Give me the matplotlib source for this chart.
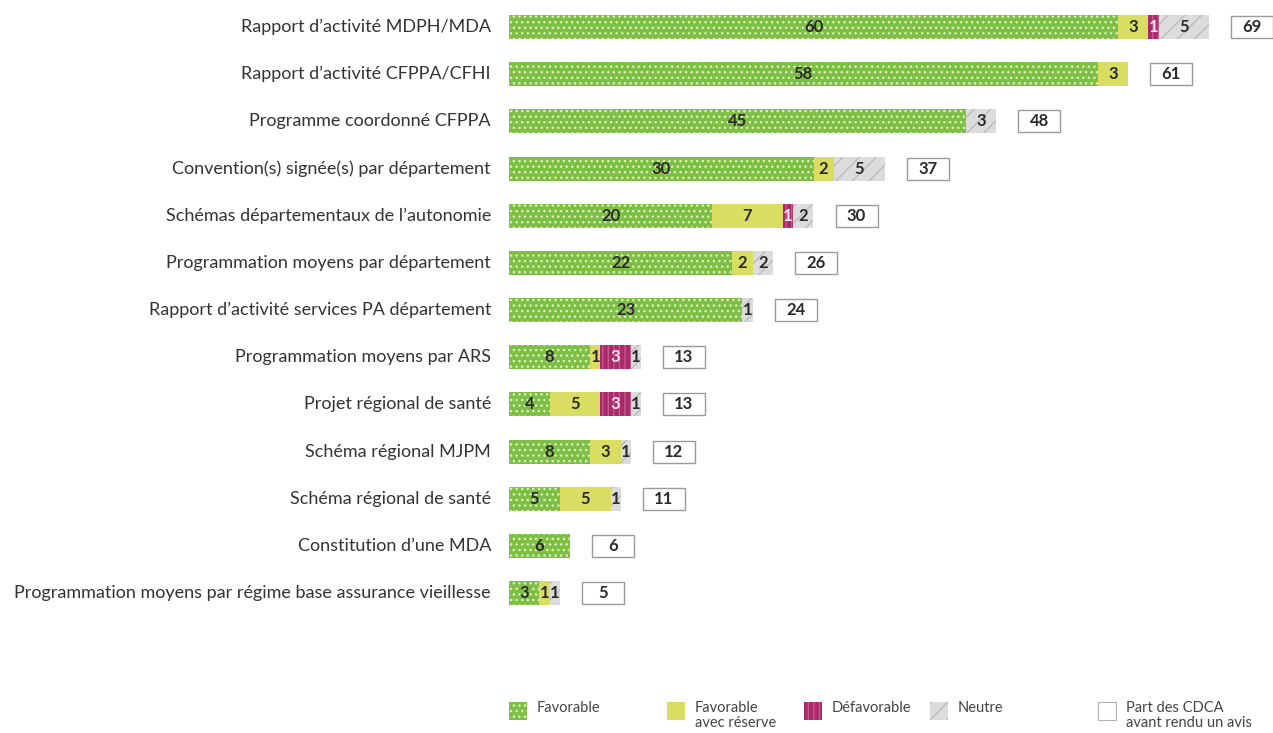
import matplotlib
matplotlib.use("Agg")
import matplotlib.pyplot as plt
from matplotlib.patches import Rectangle
from matplotlib.transforms import offset_copy

# Avis rendus par les CDCA, par type de document
categories = [
    "Rapport d\u2019activité MDPH/MDA",
    "Rapport d\u2019activité CFPPA/CFHI",
    "Programme coordonné CFPPA",
    "Convention(s) signée(s) par département",
    "Schémas départementaux de l\u2019autonomie",
    "Programmation moyens par département",
    "Rapport d\u2019activité services PA département",
    "Programmation moyens par ARS",
    "Projet régional de santé",
    "Schéma régional MJPM",
    "Schéma régional de santé",
    "Constitution d\u2019une MDA",
    "Programmation moyens par régime base assurance vieillesse",
]
favorable = [60, 58, 45, 30, 20, 22, 23, 8, 4, 8, 5, 6, 3]
favorable_reserve = [3, 3, 0, 2, 7, 2, 0, 1, 5, 3, 5, 0, 1]
defavorable = [1, 0, 0, 0, 1, 0, 0, 3, 3, 0, 0, 0, 0]
neutre = [5, 0, 3, 5, 2, 2, 1, 1, 1, 1, 1, 0, 1]
totals = [69, 61, 48, 37, 30, 26, 24, 13, 13, 12, 11, 6, 5]

legend_labels = ["Favorable", "Favorable\navec réserve", "Défavorable",
                 "Neutre", "Part des CDCA\navant rendu un avis"]

plt.rcParams["font.family"] = ["Lato", "DejaVu Sans"]
plt.rcParams["hatch.linewidth"] = 1.0

GREEN = "#7dbf45"
YELLOW = "#d9de62"
MAGENTA = "#a82a68"
GREY = "#dcdcdc"
TEXT = "#2a2a2a"

styles = [
    dict(facecolor=GREEN, edgecolor="#dff0bd", hatch="...", text=TEXT),
    dict(facecolor=YELLOW, edgecolor=YELLOW, hatch=None, text=TEXT),
    dict(facecolor=MAGENTA, edgecolor="#c8588e", hatch="|||", text="#f4e4ee"),
    dict(facecolor=GREY, edgecolor="#bcbcbc", hatch="//", text=TEXT),
]

W, H = 1273, 733
fig = plt.figure(figsize=(W / 100, H / 100), dpi=100)
fig.patch.set_facecolor("white")

# Pixel geometry of the plotting area
x0_px = 509          # left edge of bars
px_per_unit = 10.15  # horizontal scale
row0_px = 27         # centre of first row
row_step = 47.17     # row spacing

ax = fig.add_axes([0, 0, 1, 1])
ax.set_xlim(-x0_px / px_per_unit, (W - x0_px) / px_per_unit)
ax.set_ylim((H - row0_px) / row_step, -row0_px / row_step)
ax.axis("off")

bar_h = 24 / row_step
series = [favorable, favorable_reserve, defavorable, neutre]

for i, cat in enumerate(categories):
    left = 0
    for vals, st in zip(series, styles):
        v = vals[i]
        if v <= 0:
            continue
        ax.barh(i, v, left=left, height=bar_h, color=st["facecolor"],
                edgecolor=st["edgecolor"], hatch=st["hatch"], linewidth=0)
        ax.text(left + v / 2, i, str(v), ha="center", va="center",
                fontsize=12, fontweight="bold", color=st["text"])
        left += v

    # total box
    gap = 22 / px_per_unit
    bw = 42 / px_per_unit
    bh = 22 / row_step
    ax.add_patch(Rectangle((totals[i] + gap, i - bh / 2), bw, bh,
                           facecolor="white", edgecolor="#9a9a9a", linewidth=1))
    ax.text(totals[i] + gap + bw / 2, i, str(totals[i]), ha="center",
            va="center", fontsize=12, fontweight="bold", color=TEXT)

    # category label
    tr = offset_copy(ax.transData, fig=fig, x=-18, y=0, units="dots")
    ax.text(0, i, cat, ha="right", va="center", fontsize=13.0,
            color="#333333", transform=tr)

# Legend drawn in pixel coordinates
lg = fig.add_axes([0, 0, 1, 1], facecolor="none")
lg.set_xlim(0, W)
lg.set_ylim(H, 0)
lg.axis("off")

legend_x = [509, 667, 804, 930, 1098]
legend_styles = styles + [dict(facecolor="white", edgecolor="#b0b0b0",
                               hatch=None, text=TEXT)]
for x, lab, st in zip(legend_x, legend_labels, legend_styles):
    is_box = st["facecolor"] == "white"
    lg.add_patch(Rectangle((x, 702), 18, 18, facecolor=st["facecolor"],
                           edgecolor=st["edgecolor"], hatch=st["hatch"],
                           linewidth=0.8 if is_box else 0))
    lg.text(x + 28, 701, lab, ha="left", va="top", fontsize=10.5,
            color="#444444", linespacing=1.1)

fig.savefig("out.png", dpi=100, facecolor="white")
